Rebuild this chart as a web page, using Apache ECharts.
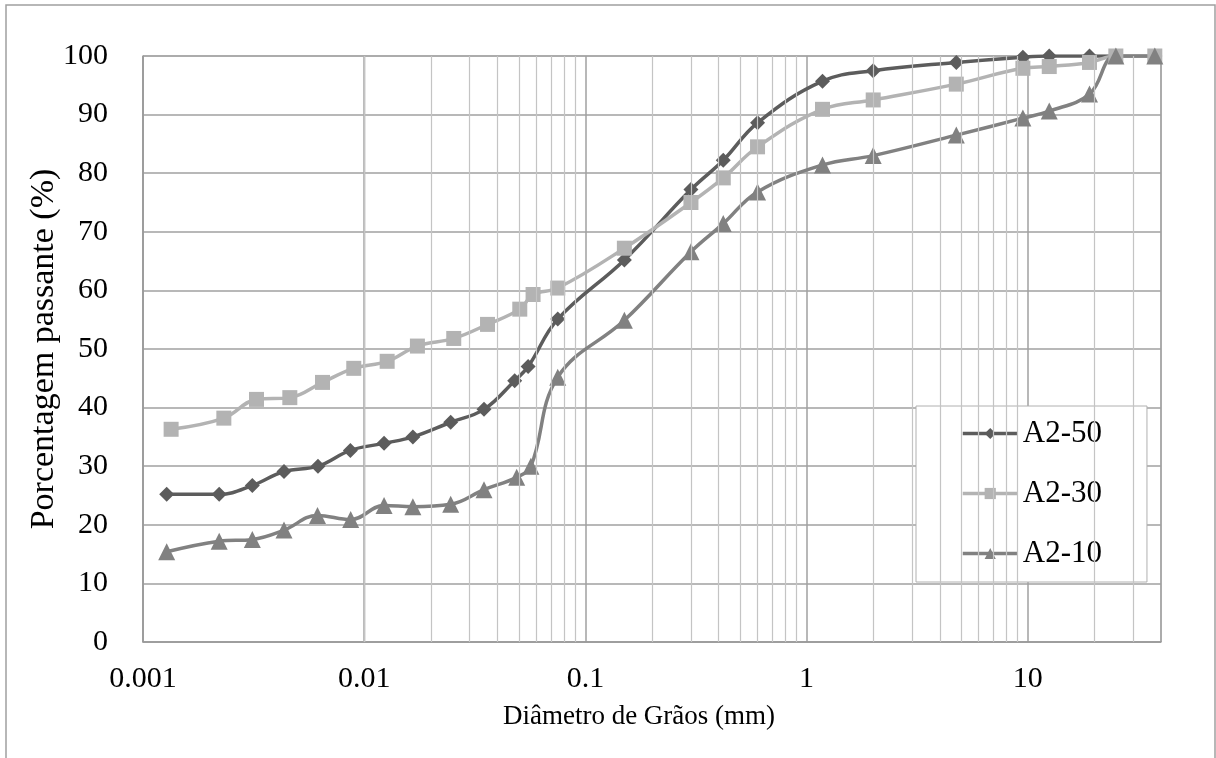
<!DOCTYPE html>
<html>
<head>
<meta charset="utf-8">
<script src="https://cdn.jsdelivr.net/npm/echarts@6/dist/echarts.min.js"></script>
<style>
  html, body { margin: 0; padding: 0; background: #fff; }
  #main { width: 1216px; height: 758px; }
</style>
</head>
<body>
<div id="main"></div>
<script>
// curvas granulométricas
const xA250 = [0.00128, 0.00221, 0.00312, 0.00434, 0.00618, 0.00866, 0.0123, 0.0166, 0.0246, 0.0348, 0.0479, 0.0551, 0.075, 0.15, 0.3, 0.42, 0.6, 1.18, 2.0, 4.75, 9.5, 12.5, 19, 25, 37.5];
const yA250 = [25.2, 25.2, 26.7, 29.1, 30.0, 32.7, 33.9, 35.0, 37.5, 39.7, 44.6, 47.0, 55.1, 65.2, 77.2, 82.2, 88.6, 95.7, 97.5, 98.9, 99.8, 100, 100, 100, 100];

const xA230 = [0.00134, 0.00232, 0.00326, 0.00461, 0.00648, 0.00897, 0.0127, 0.0174, 0.0254, 0.0361, 0.0505, 0.058, 0.075, 0.15, 0.3, 0.42, 0.6, 1.18, 2.0, 4.75, 9.5, 12.5, 19, 25, 37.5];
const yA230 = [36.3, 38.2, 41.4, 41.7, 44.3, 46.7, 47.9, 50.5, 51.8, 54.2, 56.8, 59.3, 60.4, 67.2, 75.0, 79.2, 84.5, 90.9, 92.5, 95.2, 97.9, 98.2, 98.9, 100, 100];

const xA210 = [0.00128, 0.00221, 0.00312, 0.00434, 0.00615, 0.00869, 0.0123, 0.0166, 0.0246, 0.0348, 0.0489, 0.0567, 0.075, 0.15, 0.3, 0.42, 0.6, 1.18, 2.0, 4.75, 9.5, 12.5, 19, 25, 37.5];
const yA210 = [15.4, 17.2, 17.5, 19.1, 21.6, 20.9, 23.3, 23.1, 23.5, 26.0, 28.1, 30.0, 45.2, 54.9, 66.6, 71.4, 76.8, 81.4, 83.0, 86.5, 89.4, 90.6, 93.5, 100, 100];

// linhas de grade secundárias do eixo log
const minorX = [0.002, 0.003, 0.004, 0.005, 0.006, 0.007, 0.008, 0.009,
  0.02, 0.03, 0.04, 0.05, 0.06, 0.07, 0.08, 0.09,
  0.2, 0.3, 0.4, 0.5, 0.6, 0.7, 0.8, 0.9,
  2, 3, 4, 5, 6, 7, 8, 9, 20, 30];

const pairs = (xs, ys) => xs.map((x, i) => [x, ys[i]]);
const FONT = "'Liberation Serif', 'Times New Roman', serif";

const chart = echarts.init(document.getElementById('main'));

function serie(name, xs, ys, color, symbol, size) {
  return {
    name: name,
    type: 'line',
    data: pairs(xs, ys),
    smooth: 0.4,
    symbol: symbol,
    symbolSize: size,
    z: 3,
    lineStyle: { color: color, width: 3.5 },
    itemStyle: { color: color },
  };
}

const option = {
  animation: false,
  backgroundColor: '#fff',
  textStyle: { fontFamily: FONT },
  graphic: [
    {
      type: 'rect',
      shape: { x: 6, y: 5, width: 1209, height: 800 },
      style: { fill: null, stroke: '#a0a0a0', lineWidth: 1.5 },
      silent: true,
    },
  ],
  grid: {
    left: 143, right: 55, top: 56, bottom: 116,
    show: true, borderColor: '#a0a0a0', borderWidth: 1,
  },
  legend: {
    data: ['A2-50', 'A2-30', 'A2-10'],
    orient: 'vertical',
    left: 916, top: 406,
    padding: [12, 45, 13, 45],
    itemGap: 29,
    itemWidth: 55,
    itemHeight: 14,
    backgroundColor: '#fff',
    borderColor: '#b0b0b0',
    borderWidth: 1,
    lineStyle: { width: 3.5 },
    textStyle: { fontFamily: FONT, fontSize: 31, color: '#000' },
  },
  xAxis: {
    type: 'log',
    logBase: 10,
    min: 0.001,
    max: 40,
    name: 'Diâmetro de Grãos (mm)',
    nameLocation: 'middle',
    nameGap: 61,
    nameTextStyle: { fontFamily: FONT, fontSize: 27, color: '#000', padding: [0, 26, 0, 0] },
    axisLine: { lineStyle: { color: '#999', width: 1.5 } },
    axisTick: { show: false },
    axisLabel: { fontFamily: FONT, fontSize: 30, color: '#000', margin: 22, showMaxLabel: false },
    splitLine: { show: true, lineStyle: { color: '#a0a0a0', width: 1.5 } },
  },
  yAxis: {
    type: 'value',
    min: 0,
    max: 100,
    interval: 10,
    name: 'Porcentagem passante (%)',
    nameLocation: 'middle',
    nameGap: 82,
    nameMoveOverlap: false,
    nameTextStyle: { fontFamily: FONT, fontSize: 34, color: '#000' },
    axisLine: { show: true, lineStyle: { color: '#999', width: 1.5 } },
    axisTick: { show: false },
    axisLabel: { fontFamily: FONT, fontSize: 30, color: '#000', margin: 35 },
    splitLine: { show: true, lineStyle: { color: '#a0a0a0', width: 1.5 } },
  },
  series: [
    {
      // só para as linhas verticais secundárias
      name: 'grade',
      type: 'line',
      data: [],
      z: 1,
      silent: true,
      markLine: {
        silent: true,
        symbol: 'none',
        label: { show: false },
        lineStyle: { color: '#c4c4c4', width: 1.2, type: 'solid' },
        data: minorX.map(v => ({ xAxis: v })),
      },
    },
    serie('A2-50', xA250, yA250, '#5c5c5c', 'diamond', 15),
    serie('A2-30', xA230, yA230, '#b3b3b3', 'rect', 15),
    serie('A2-10', xA210, yA210, '#818181', 'triangle', 17),
  ],
};

chart.setOption(option);
</script>
</body>
</html>
